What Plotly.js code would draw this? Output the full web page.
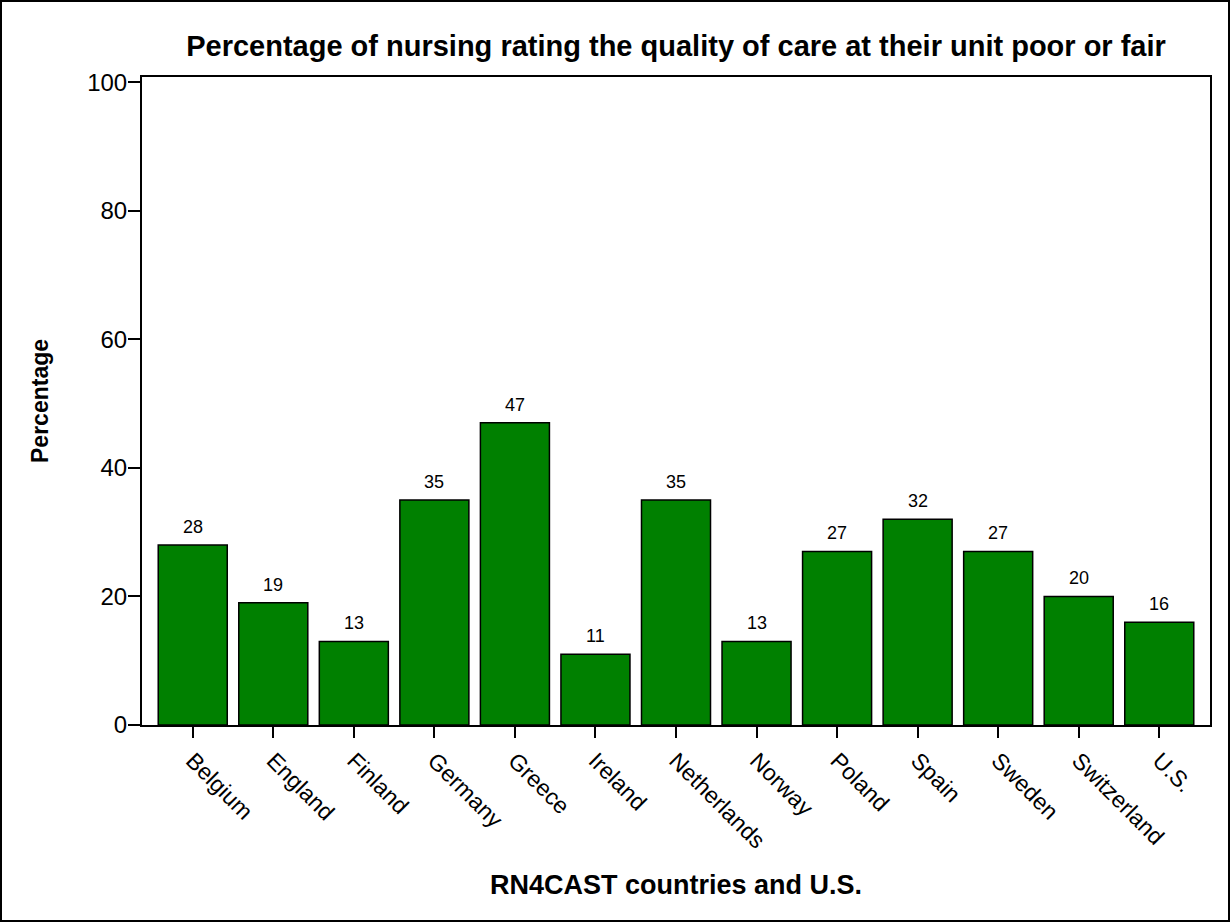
<!DOCTYPE html>
<html>
<head>
<meta charset="utf-8">
<script src="https://cdn.plot.ly/plotly-3.0.1.min.js"></script>
<style>
html,body{margin:0;padding:0;background:#fff;}
#chart{width:1226px;height:918px;border:2px solid #000;}
</style>
</head>
<body>
<div id="chart"></div>
<script>
var countries = ["Belgium","England","Finland","Germany","Greece","Ireland","Netherlands","Norway","Poland","Spain","Sweden","Switzerland","U.S."];
var percentages = [28,19,13,35,47,11,35,13,27,32,27,20,16];
var yTicks = [0,20,40,60,80,100];

var font = "Liberation Sans, Arial, sans-serif";

var trace = {
  type: "bar",
  x: countries,
  y: percentages,
  marker: {color: "#008000", line: {color: "#000", width: 1.5}},
  hoverinfo: "x+y"
};

var annotations = countries.map(function(c, i){
  return {
    x: c, y: percentages[i], xref: "x", yref: "y",
    text: String(percentages[i]), showarrow: false,
    yanchor: "bottom", yshift: 6,
    font: {family: font, size: 18, color: "#000"}
  };
});

var layout = {
  width: 1226, height: 918,
  margin: {l: 140, r: 18, t: 75, b: 195},
  paper_bgcolor: "#fff", plot_bgcolor: "#fff",
  showlegend: false,
  bargap: 0.143,
  title: {
    text: "<b>Percentage of nursing rating the quality of care at their unit poor or fair</b>",
    font: {family: font, size: 29, color: "#000"},
    x: 0.5, xref: "paper", xanchor: "center",
    y: 1, yref: "paper", yanchor: "bottom", pad: {b: 21}
  },
  xaxis: {
    type: "category",
    range: [-0.63, 12.63],
    showline: true, linecolor: "#000", linewidth: 2, mirror: true,
    ticks: "outside", ticklen: 11, tickwidth: 2, tickcolor: "#000",
    tickangle: 45,
    tickfont: {family: font, size: 23, color: "#000"},
    showgrid: false, zeroline: false,
    title: {text: "<b>RN4CAST countries and U.S.</b>", font: {family: font, size: 27, color: "#000"}, standoff: 23}
  },
  yaxis: {
    range: [0, 100.8],
    tickvals: yTicks,
    showline: true, linecolor: "#000", linewidth: 2, mirror: true,
    ticks: "outside", ticklen: 12, tickwidth: 2, tickcolor: "#000",
    ticklabelstandoff: -4,
    tickfont: {family: font, size: 24, color: "#000"},
    showgrid: false, zeroline: false,
    title: {text: "<b>Percentage</b>", font: {family: font, size: 23, color: "#000"}, standoff: 32}
  },
  annotations: annotations
};

Plotly.newPlot("chart", [trace], layout, {displayModeBar: false, staticPlot: true});
</script>
</body>
</html>
